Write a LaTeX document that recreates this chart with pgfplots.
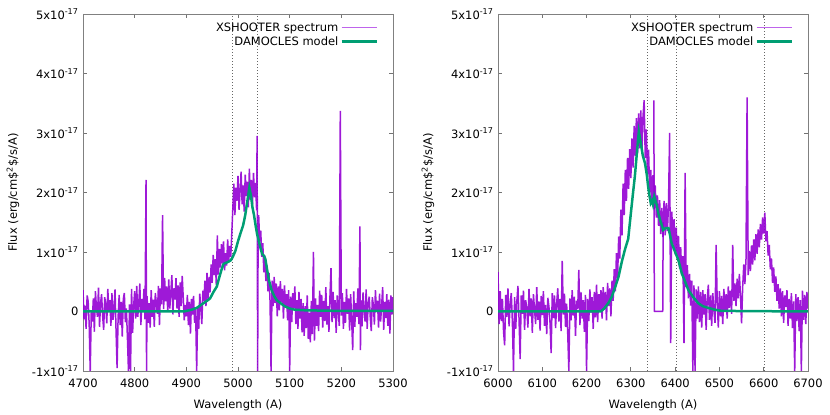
\documentclass[border=0pt]{standalone}
\usepackage{fontspec}
\setmainfont{DejaVu Sans}
\usepackage{pgfplots}
\usepackage{pgfplotstable}
\pgfplotsset{compat=1.18}

\definecolor{specpurple}{RGB}{148,0,211}
\definecolor{speclight}{RGB}{190,100,235}
\definecolor{modelgreen}{RGB}{0,158,115}

% flux in units of 1e-17 erg/cm^2/s/A
\pgfplotstableread{
x y
4700 0.36
4702 -0.13
4704 0.10
4706 -0.29
4708 0.27
4710 0.17
4712 -0.22
4714 -1.00
4716 -0.01
4718 -0.17
4720 0.22
4722 -0.34
4724 0.34
4726 0.07
4728 -0.09
4730 0.40
4732 -0.26
4734 0.14
4736 0.29
4738 -0.07
4740 -0.31
4742 0.24
4744 0.12
4746 -0.20
4748 0.38
4750 0.01
4752 0.19
4754 -0.24
4756 0.31
4758 -0.14
4760 0.04
4762 0.37
4764 -0.33
4766 -0.95
4768 -0.08
4770 0.28
4772 -0.23
4774 0.16
4776 -0.42
4778 0.21
4780 0.31
4782 -0.18
4784 0.05
4786 -0.44
4788 -1.00
4790 0.12
4792 -1.00
4794 0.38
4796 -0.36
4798 0.09
4800 0.34
4802 -0.12
4804 0.43
4806 -0.09
4808 0.15
4810 0.47
4812 -0.23
4814 0.21
4816 0.02
4818 0.38
4820 -0.13
4822 2.21
4823 -1.00
4824 0.26
4826 -0.19
4828 0.14
4830 -0.27
4832 0.36
4834 -0.09
4836 0.20
4838 -0.26
4840 0.31
4842 0.14
4844 -0.04
4846 0.43
4848 -0.23
4850 0.39
4852 0.12
4854 1.62
4856 0.04
4858 0.56
4860 0.17
4862 0.42
4864 0.01
4866 0.54
4868 0.05
4870 0.32
4872 0.61
4874 -0.05
4876 0.39
4878 0.20
4880 0.56
4882 0.05
4884 0.44
4886 -0.09
4888 0.49
4890 0.09
4892 0.60
4894 0.24
4896 -0.15
4898 0.11
4900 -0.08
4902 0.28
4904 -0.23
4906 0.16
4908 -0.37
4910 0.21
4912 -0.05
4914 0.26
4916 -0.19
4918 0.04
4920 -1.00
4922 0.07
4924 -0.29
4926 0.30
4928 0.05
4930 -0.21
4932 0.35
4934 0.18
4936 0.52
4938 0.09
4940 0.65
4942 0.20
4944 0.58
4946 0.32
4948 0.79
4950 0.48
4952 0.95
4954 0.61
4956 0.88
4958 0.45
4960 1.28
4962 0.62
4964 1.05
4966 0.74
4968 1.13
4970 0.81
4972 1.18
4974 0.69
4976 0.98
4978 0.77
4980 1.21
4982 0.84
4984 1.10
4986 0.92
4988 1.32
4990 1.74
4992 2.15
4994 1.62
4996 2.08
4998 1.86
5000 2.28
5002 1.71
5004 2.02
5006 2.35
5008 1.80
5010 2.12
5012 1.68
5014 2.30
5016 1.94
5018 2.18
5020 1.75
5022 2.40
5024 1.88
5026 2.21
5028 1.79
5030 2.33
5032 1.92
5034 2.16
5036 1.70
5037 2.95
5038 -1.00
5039 1.45
5040 1.62
5042 1.18
5044 1.36
5046 0.92
5048 1.15
5050 0.66
5052 0.94
5054 0.51
5056 0.78
5058 0.34
5060 0.65
5062 0.18
5064 -1.00
5066 0.52
5068 0.09
5070 0.58
5072 0.14
5074 0.47
5076 -0.08
5078 0.42
5080 0.02
5082 0.51
5084 0.16
5086 0.38
5088 -0.12
5090 0.44
5092 0.07
5094 0.29
5096 -0.15
5098 0.36
5100 -1.00
5102 0.25
5104 -0.18
5106 0.31
5108 0.06
5110 0.42
5112 -0.21
5114 0.19
5116 -0.29
5118 0.33
5120 -0.12
5122 0.21
5124 -0.35
5126 0.14
5128 -0.41
5130 0.09
5132 -0.28
5134 0.27
5136 -0.46
5138 -0.02
5140 -0.52
5142 0.18
5144 -0.38
5146 1.00
5148 -0.49
5150 0.22
5152 -0.24
5154 0.11
5156 -0.33
5158 0.35
5160 -0.09
5162 0.28
5164 -0.27
5166 0.18
5168 -0.16
5170 0.41
5172 -0.22
5174 0.09
5176 -0.34
5178 0.25
5180 0.73
5182 -0.18
5184 0.33
5186 -0.11
5188 0.19
5190 -0.36
5192 0.27
5194 0.01
5196 -0.24
5198 3.37
5200 -0.07
5202 0.31
5204 -0.29
5206 0.16
5208 -0.19
5210 0.38
5212 -0.04
5214 0.22
5216 -0.32
5218 0.29
5220 -0.14
5222 -0.65
5224 0.34
5226 -0.26
5228 0.14
5230 -0.09
5232 0.39
5234 -0.21
5236 1.43
5237 -0.65
5238 0.19
5240 -0.25
5242 0.32
5244 0.02
5246 -0.17
5248 0.37
5250 -0.29
5252 0.15
5254 0.25
5256 -0.10
5258 -0.33
5260 0.24
5262 0.11
5264 -0.22
5266 0.36
5268 -0.01
5270 0.18
5272 -0.27
5274 0.30
5276 -0.17
5278 0.09
5280 0.41
5282 -0.31
5284 0.16
5286 -0.11
5288 0.29
5290 -0.24
5292 0.20
5294 -0.37
5296 0.27
5298 -0.05
5300 0.24
}\leftspec

\pgfplotstableread{
x y
4700 0
4895 0
4900 0.01
4910 0.03
4920 0.06
4930 0.12
4940 0.18
4946 0.22
4952 0.32
4959 0.42
4964 0.58
4968 0.70
4972 0.80
4980 0.83
4986 0.86
4990 0.92
4995 1.02
5000 1.18
5005 1.32
5010 1.45
5014 1.62
5018 1.85
5022 2.08
5025 1.95
5028 1.75
5031 1.62
5034 1.45
5037 1.30
5040 1.20
5044 1.05
5047 0.96
5050 0.94
5053 0.88
5056 0.72
5060 0.52
5065 0.36
5070 0.26
5075 0.19
5081 0.15
5090 0.09
5100 0.05
5110 0.03
5130 0.02
5200 0.01
5300 0.01
}\leftmodel

\pgfplotstableread{
x y
6000 0.66
6002.5 -0.21
6005 0.34
6007.5 -0.16
6010 0.21
6012.5 -0.33
6015 -0.57
6017.5 0.28
6020 -0.09
6022.5 0.39
6025 -0.25
6027.5 0.12
6030 0.31
6032.5 -0.18
6035 -1.00
6037.5 0.24
6040 -0.29
6042.5 0.16
6045 0.43
6047.5 -0.12
6050 -0.80
6052.5 0.27
6055 -0.04
6057.5 0.35
6060 -0.31
6062.5 0.19
6065 0.06
6067.5 -0.27
6070 0.38
6072.5 -0.08
6075 0.22
6077.5 -0.36
6080 0.29
6082.5 0.03
6085 -0.21
6087.5 0.41
6090 -0.14
6092.5 0.17
6095 -0.32
6097.5 0.26
6100 -0.06
6102.5 0.34
6105 -0.24
6107.5 0.11
6110 -0.38
6112.5 0.23
6115 0.08
6117.5 -0.19
6120 -0.70
6122.5 0.31
6125 -0.11
6127.5 0.27
6130 -0.28
6132.5 0.14
6135 0.39
6137.5 -0.17
6140 0.21
6142.5 -0.33
6145 0.85
6147.5 -0.05
6150 0.30
6152.5 -0.26
6155 0.13
6157.5 -0.38
6160 -1.00
6162.5 0.22
6165 -0.15
6167.5 0.36
6170 -0.07
6172.5 0.25
6175 -0.41
6177.5 0.18
6180 0.04
6182.5 0.70
6185 -0.23
6187.5 0.32
6190 -0.12
6192.5 0.19
6195 -0.34
6197.5 0.28
6200 -1.00
6202.5 0.21
6205 -0.16
6207.5 0.37
6210 -0.02
6212.5 0.24
6215 -0.29
6217.5 0.33
6220 -0.10
6222.5 0.45
6225 -0.18
6227.5 0.29
6230 0.02
6232.5 0.36
6235 -0.12
6237.5 0.41
6240 0.05
6242.5 0.33
6245 -0.15
6247.5 0.48
6250 0.09
6252.5 0.39
6255 -0.08
6257.5 0.52
6260 0.18
6262.5 0.71
6265 0.34
6267.5 0.98
6270 0.55
6272.5 1.26
6275 0.89
6277.5 1.71
6280 1.28
6282.5 2.15
6285 1.62
6287.5 2.38
6290 1.86
6292.5 2.58
6295 2.06
6297.5 2.73
6300 2.24
6302.5 2.91
6305 2.42
6307.5 3.12
6310 2.61
6312.5 3.25
6315 2.66
6317.5 3.33
6320 2.74
6322.5 3.38
6325 2.69
6327.5 3.29
6330 3.55
6332.5 2.58
6335 3.06
6337.5 2.31
6340 2.72
6342.5 1.98
6345 2.38
6347.5 1.80
6350 2.29
6352.5 1.72
6355 2.12
6357.5 1.58
6360 1.95
6362.5 1.44
6365 1.87
6367.5 1.30
6370 1.74
6372.5 1.25
6375 1.86
6377.5 1.28
6380 1.82
6382.5 1.35
6385 1.79
6387.5 3.00
6390 -0.53
6392.5 1.68
6395 1.10
6397.5 1.55
6400 0.96
6402.5 1.41
6405 0.88
6407.5 1.27
6410 0.72
6412.5 1.08
6415 0.61
6417.5 0.93
6420 -0.53
6422.5 2.33
6425 0.41
6427.5 0.78
6430 0.22
6432.5 0.63
6435 0.10
6437.5 0.52
6440 -1.00
6442.5 0.44
6445 -1.00
6447.5 0.37
6450 -0.12
6452.5 0.42
6455 -0.18
6457.5 0.33
6460 -0.27
6462.5 0.36
6465 -0.05
6467.5 0.29
6470 -0.31
6472.5 0.22
6475 0.45
6477.5 -0.14
6480 0.27
6482.5 -0.24
6485 0.31
6487.5 0.02
6490 -0.19
6492.5 1.12
6495 0.16
6497.5 -0.27
6500 0.34
6502.5 -0.08
6505 0.26
6507.5 -0.21
6510 0.38
6512.5 0.01
6515 0.29
6517.5 -0.12
6520 0.42
6522.5 0.06
6525 0.35
6527.5 -0.04
6530 1.12
6532.5 0.18
6535 0.47
6537.5 0.09
6540 0.55
6542.5 0.22
6545 0.63
6547.5 0.28
6550 -0.20
6552.5 0.41
6555 0.79
6557.5 0.46
6560 0.88
6562.5 3.60
6565 0.61
6567.5 1.02
6570 0.68
6572.5 1.11
6575 0.79
6577.5 1.21
6580 0.86
6582.5 1.30
6585 0.97
6587.5 1.38
6590 1.08
6592.5 1.47
6595 1.21
6597.5 1.58
6600 1.31
6602.5 1.66
6605 1.18
6607.5 1.35
6610 0.94
6612.5 1.12
6615 0.71
6617.5 0.89
6620 0.48
6622.5 0.74
6625 0.33
6627.5 0.59
6630 0.18
6632.5 0.46
6635 0.05
6637.5 0.39
6640 -0.08
6642.5 0.34
6645 -0.19
6647.5 0.27
6650 0.08
6652.5 0.36
6655 -0.24
6657.5 0.21
6660 -0.12
6662.5 0.31
6665 -0.28
6667.5 0.17
6670 -1.00
6672.5 0.29
6675 -0.16
6677.5 0.24
6680 -0.33
6682.5 0.19
6685 -1.00
6687.5 0.35
6690 -0.14
6692.5 0.28
6695 -0.21
6697.5 0.33
6700 0.05
}\rightspec

\pgfplotstableread{
x y
6000 0
6232 0
6240 0.05
6250 0.15
6257 0.25
6265 0.42
6272 0.58
6280 0.85
6287 1.05
6294 1.22
6300 1.65
6305 2.00
6309 2.27
6314 2.70
6318 3.02
6322 2.85
6327 2.62
6332 2.49
6336 2.30
6339 2.10
6342 1.95
6345 1.82
6348 1.86
6350 1.80
6353 1.93
6356 1.85
6358 1.80
6362 1.65
6366 1.54
6370 1.45
6373 1.37
6378 1.40
6385 1.40
6388 1.30
6392 1.15
6400 1.00
6407 0.87
6411 0.76
6415 0.64
6420 0.55
6425 0.45
6430 0.36
6440 0.25
6452 0.14
6462 0.09
6475 0.06
6490 0.03
6505 0.01
6700 0.00
}\rightmodel

\pgfplotsset{
  panel/.style={
    width=310bp, height=357bp, scale only axis,
    anchor=south west,
    ymin=-1, ymax=5,
    ytick={-1,0,1,2,3,4,5},
    yticklabels={-1x10\textsuperscript{-17},0,1x10\textsuperscript{-17},2x10\textsuperscript{-17},3x10\textsuperscript{-17},4x10\textsuperscript{-17},5x10\textsuperscript{-17}},
    /pgf/number format/assume math mode=true,
    /pgf/number format/1000 sep={},
    scaled ticks=false,
    tick align=inside,
    major tick length=4bp,
    axis line style={black!50, line width=0.9bp},
    every tick/.style={black!55, line width=0.8bp},
    xticklabel style={yshift=-4bp},
    yticklabel style={xshift=-1bp},
    xlabel={Wavelength (A)},
    ylabel={Flux (erg/cm\$\textsuperscript{2}\$/s/A)},
    every axis x label/.style={at={(axis description cs:0.5,-0.095)}, anchor=center},
    every axis y label/.style={at={(axis description cs:-0.226,0.5)}, rotate=90, anchor=center},
    legend style={at={(0.955,0.985)}, anchor=north east, draw=none, fill=none,
      legend cell align=right, row sep=0bp, inner sep=1bp,
      nodes={inner sep=2bp}},
    legend plot pos=right,
    clip=true,
  },
  spec/.style={color=specpurple, line width=1.5bp, opacity=0.9, line join=bevel},
  model/.style={color=modelgreen, line width=2.5bp},
  marker/.style={black!60, line width=0.9bp, dash pattern=on 1bp off 2bp},
}

\begin{document}
\begin{tikzpicture}[font=\fontsize{11.5bp}{13.5bp}\selectfont]
\path[use as bounding box] (0bp,0bp) rectangle (830bp,415bp);

\begin{axis}[panel, at={(83bp,44bp)}, xmin=4700, xmax=5300,
  xtick={4700,4800,4900,5000,5100,5200,5300}]
\addplot[marker, forget plot] coordinates {(4989,-1) (4989,5)};
\addplot[marker, forget plot] coordinates {(5037,-1) (5037,5)};
\addplot[spec, forget plot] table[x=x, y=y] {\leftspec};
\addlegendimage{legend image code/.code={\draw[color=speclight, line width=1.8bp, solid] (2bp,0bp) -- (37bp,0bp);}}
\addlegendentry{XSHOOTER spectrum}
\addplot[model, forget plot] table[x=x, y=y] {\leftmodel};
\addlegendimage{legend image code/.code={\draw[color=modelgreen, line width=2.5bp, solid] (2bp,0bp) -- (37bp,0bp);}}
\addlegendentry{DAMOCLES model}
\end{axis}

\begin{axis}[panel, at={(498bp,44bp)}, xmin=6000, xmax=6700,
  xtick={6000,6100,6200,6300,6400,6500,6600,6700}]
\addplot[marker, forget plot] coordinates {(6338.5,-1) (6338.5,5)};
\addplot[marker, forget plot] coordinates {(6402,-1) (6402,5)};
\addplot[marker, forget plot] coordinates {(6602,-1) (6602,5)};
\addplot[spec, forget plot] table[x=x, y=y] {\rightspec};
\addplot[spec, forget plot] coordinates {(6352,3.55) (6353,0) (6372,0) (6373,1.50)};
\addlegendimage{legend image code/.code={\draw[color=speclight, line width=1.8bp, solid] (2bp,0bp) -- (37bp,0bp);}}
\addlegendentry{XSHOOTER spectrum}
\addplot[model, forget plot] table[x=x, y=y] {\rightmodel};
\addlegendimage{legend image code/.code={\draw[color=modelgreen, line width=2.5bp, solid] (2bp,0bp) -- (37bp,0bp);}}
\addlegendentry{DAMOCLES model}
\end{axis}
\end{tikzpicture}
\end{document}
